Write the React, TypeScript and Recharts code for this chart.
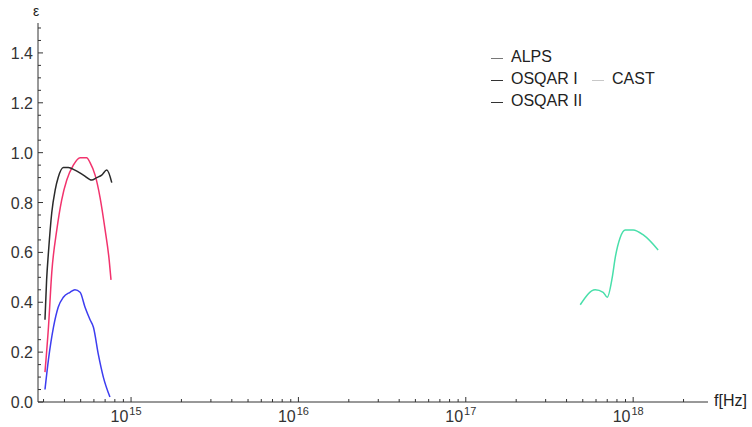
import React from 'react';
import { LineChart, Line, XAxis, YAxis } from 'recharts';

// frequencies in Hz, efficiency
const alpsF = [3.06e14, 3.21e14, 3.36e14, 3.6e14, 3.85e14, 4.13e14, 4.52e14, 4.96e14, 5.43e14, 5.69e14, 6.1e14, 6.53e14, 7.0e14, 7.4e14, 7.59e14];
const alpsEps = [0.12, 0.3, 0.52, 0.69, 0.81, 0.89, 0.95, 0.98, 0.98, 0.96, 0.91, 0.82, 0.69, 0.57, 0.49];

const osqar1F = [3.06e14, 3.13e14, 3.21e14, 3.36e14, 3.52e14, 3.67e14, 3.94e14, 4.22e14, 4.62e14, 5.19e14, 5.82e14, 6.24e14, 6.68e14, 7.16e14, 7.67e14];
const osqar1Eps = [0.33, 0.49, 0.6, 0.76, 0.85, 0.9, 0.94, 0.94, 0.93, 0.91, 0.89, 0.9, 0.91, 0.93, 0.88];

const osqar2F = [3.06e14, 3.21e14, 3.44e14, 3.67e14, 3.94e14, 4.32e14, 4.62e14, 4.96e14, 5.31e14, 5.69e14, 5.96e14, 6.38e14, 6.83e14, 7.48e14];
const osqar2Eps = [0.05, 0.17, 0.3, 0.38, 0.42, 0.44, 0.45, 0.44, 0.38, 0.33, 0.3, 0.19, 0.1, 0.02];

const castF = [4.83e17, 5.93e17, 6.62e17, 7.0e17, 7.5e17, 7.82e17, 8.37e17, 8.97e17, 1.0e18, 1.15e18, 1.41e18];
const castEps = [0.39, 0.45, 0.44, 0.42, 0.5, 0.58, 0.66, 0.69, 0.69, 0.67, 0.61];

const xMajor = [1e15, 1e16, 1e17, 1e18];
const xMajorLabels = ['15', '16', '17', '18'];
const xMinorMult = [2, 3, 4, 5, 6, 7, 8, 9];
const yMajor = [0, 0.2, 0.4, 0.6, 0.8, 1.0, 1.2, 1.4];
const yLabels = ['0.0', '0.2', '0.4', '0.6', '0.8', '1.0', '1.2', '1.4'];

const X_DOMAIN = [2.78e14, 2.8e18];
const Y_DOMAIN = [0, 1.52];

const zip = (f: number[], e: number[]) => f.map((v, i) => ({ f: v, eps: e[i] }));

const series = [
  { name: 'ALPS', data: zip(alpsF, alpsEps), color: '#f2336d', swatch: '#777' },
  { name: 'OSQAR I', data: zip(osqar1F, osqar1Eps), color: '#2a2a2a', swatch: '#333' },
  { name: 'OSQAR II', data: zip(osqar2F, osqar2Eps), color: '#3d3df0', swatch: '#333' },
  { name: 'CAST', data: zip(castF, castEps), color: '#48dfaa', swatch: '#c8c8c8' },
];

const xTicks: number[] = [];
[1e14, ...xMajor].forEach((d) => {
  [1, ...xMinorMult].forEach((m) => {
    const v = d * m;
    if (v >= X_DOMAIN[0] && v <= X_DOMAIN[1]) xTicks.push(v);
  });
});

const yTicks: number[] = [];
for (let i = 0; i <= 30; i++) yTicks.push(i * 0.05);

const FONT = '"Liberation Sans", Arial, sans-serif';
const AXIS = '#333';

const XTick = ({ x, y, payload }: any) => {
  const idx = xMajor.findIndex((m) => Math.abs(m - payload.value) / m < 1e-6);
  const major = idx >= 0;
  return (
    <g>
      <line x1={x} x2={x} y1={y} y2={y - (major ? 5 : 3)} stroke={AXIS} strokeWidth={1} />
      {major && (
        <text x={x - 5} y={y + 20} textAnchor="middle" fontFamily={FONT} fontSize={16} fill="#333">
          10
          <tspan dx={1} dy={-7} fontSize={11}>{xMajorLabels[idx]}</tspan>
        </text>
      )}
    </g>
  );
};

const YTick = ({ x, y, payload }: any) => {
  const idx = yMajor.findIndex((m) => Math.abs(m - payload.value) < 1e-6);
  const major = idx >= 0;
  return (
    <g>
      <line x1={x} x2={x + (major ? 5 : 3)} y1={y} y2={y} stroke={AXIS} strokeWidth={1} />
      {major && (
        <text x={x - 5} y={y + 6} textAnchor="end" fontFamily={FONT} fontSize={16} fill="#333">
          {yLabels[idx]}
        </text>
      )}
    </g>
  );
};

const LegendItem = ({ s, left, top }: any) => (
  <div style={{ position: 'absolute', left, top, display: 'flex', alignItems: 'center', whiteSpace: 'nowrap' }}>
    <span style={{ display: 'inline-block', width: 12, height: 1, background: s.swatch, marginRight: 8, marginTop: 3 }} />
    <span style={{ fontFamily: FONT, fontSize: 16, color: '#222' }}>{s.name}</span>
  </div>
);

export default function App() {
  return (
    <div style={{ position: 'absolute', left: 0, top: 0, width: 752, height: 427, background: '#fff' }}>
      <LineChart width={752} height={427} margin={{ top: 23, right: 44, bottom: 0, left: 0 }}>
        <XAxis
          dataKey="f"
          type="number"
          scale="log"
          domain={X_DOMAIN}
          allowDataOverflow
          ticks={xTicks}
          interval={0}
          tick={<XTick />}
          tickLine={false}
          tickSize={0}
          tickMargin={0}
          height={25}
          stroke={AXIS}
        />
        <YAxis
          type="number"
          domain={Y_DOMAIN}
          allowDataOverflow
          ticks={yTicks}
          interval={0}
          tick={<YTick />}
          tickLine={false}
          tickSize={0}
          tickMargin={0}
          width={38}
          stroke={AXIS}
        />
        {series.map((s) => (
          <Line
            key={s.name}
            data={s.data}
            dataKey="eps"
            name={s.name}
            type="monotone"
            stroke={s.color}
            strokeWidth={1.5}
            dot={false}
            isAnimationActive={false}
          />
        ))}
      </LineChart>
      <LegendItem s={series[0]} left={491} top={48} />
      <LegendItem s={series[1]} left={491} top={70} />
      <LegendItem s={series[2]} left={491} top={92} />
      <LegendItem s={series[3]} left={592} top={70} />
      <div style={{ position: 'absolute', left: 33, top: 3, fontFamily: FONT, fontSize: 14, color: '#222' }}>ε</div>
      <div style={{ position: 'absolute', left: 714, top: 392, fontFamily: FONT, fontSize: 16, color: '#222' }}>f[Hz]</div>
    </div>
  );
}
